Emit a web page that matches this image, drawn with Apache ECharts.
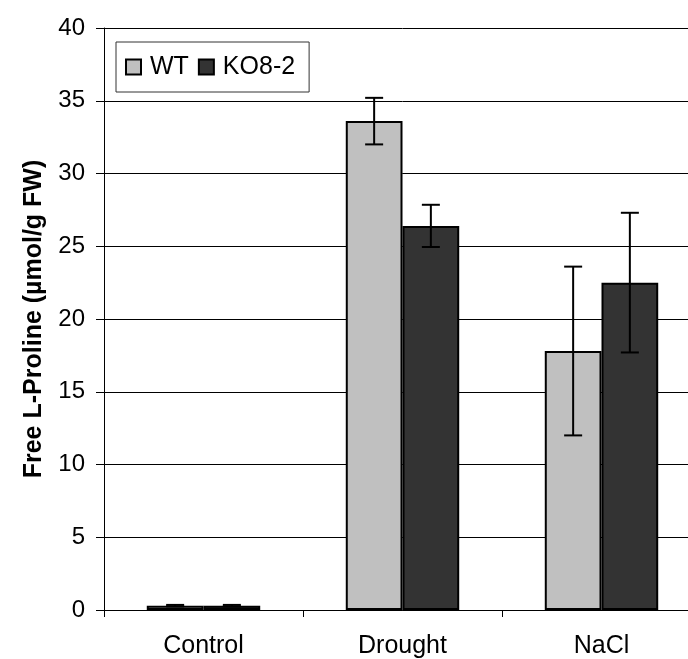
<!DOCTYPE html>
<html>
<head>
<meta charset="utf-8">
<script src="https://cdn.jsdelivr.net/npm/echarts@6/dist/echarts.min.js"></script>
<style>
  html, body { margin: 0; padding: 0; background: #fff; overflow: hidden; width: 688px; height: 659px; }
  /* the plot runs a little past the right edge of the page */
  #chart { width: 712px; height: 659px; }
</style>
</head>
<body>
<div id="chart"></div>
<script>
// Free L-proline content under control, drought and salt treatments
const categories = ['Control', 'Drought', 'NaCl'];
const wtMean = [0.3, 33.6, 17.8];
const wtErr = [0.05, 1.6, 5.8];
const koMean = [0.3, 26.4, 22.5];
const koErr = [0.05, 1.45, 4.8];
const yTicks = { min: 0, max: 40, interval: 5 };

const FONT = "'Liberation Sans', Arial, sans-serif";
const CATEGORY_GAP = 0.43;

// Error bar rows: [category index, mean, error, side (-1 left bar, +1 right bar)]
function errorRows(means, errs, side) {
  return means.map((m, i) => [i, m, errs[i], side]);
}

function renderErrorBar(params, api) {
  const idx = api.value(0);
  const mean = api.value(1);
  const err = api.value(2);
  const side = api.value(3);
  const band = api.size([1, 0])[0];
  const barW = band * (1 - CATEGORY_GAP) / 2;
  const center = api.coord([idx, mean]);
  const x = center[0] + side * barW / 2;
  const yHi = api.coord([idx, mean + err])[1];
  const yLo = api.coord([idx, mean - err])[1];
  const cap = 9;
  const style = { stroke: '#000', lineWidth: 2 };
  return {
    type: 'group',
    children: [
      { type: 'line', shape: { x1: x, y1: yHi, x2: x, y2: yLo }, style },
      { type: 'line', shape: { x1: x - cap, y1: yHi, x2: x + cap, y2: yHi }, style },
      { type: 'line', shape: { x1: x - cap, y1: yLo, x2: x + cap, y2: yLo }, style }
    ]
  };
}

const chart = echarts.init(document.getElementById('chart'), null, { renderer: 'canvas' });

chart.setOption({
  animation: false,
  backgroundColor: '#fff',
  textStyle: { fontFamily: FONT, color: '#000' },
  grid: { left: 104, top: 28, width: 597, height: 583, containLabel: false },
  legend: {
    left: 116,
    top: 42,
    orient: 'horizontal',
    data: ['WT', 'KO8-2'],
    icon: 'rect',
    itemWidth: 15,
    itemHeight: 15,
    itemGap: 9,
    padding: [12, 14, 12, 9],
    borderColor: '#333',
    borderWidth: 1,
    backgroundColor: '#fff',
    textStyle: { fontFamily: FONT, fontSize: 25, color: '#000', padding: [0, 0, 0, 4], lineHeight: 26 }
  },
  xAxis: {
    type: 'category',
    data: categories,
    boundaryGap: true,
    axisLine: { lineStyle: { color: '#000', width: 1 } },
    axisTick: { show: true, length: 7, lineStyle: { color: '#000' } },
    axisLabel: { fontFamily: FONT, fontSize: 25, color: '#000', margin: 24 },
    splitLine: { show: false }
  },
  yAxis: {
    type: 'value',
    min: yTicks.min,
    max: yTicks.max,
    interval: yTicks.interval,
    name: 'Free L-Proline (µmol/g FW)',
    nameLocation: 'middle',
    nameRotate: 90,
    nameGap: 57,
    nameTextStyle: { fontFamily: FONT, fontSize: 25, fontWeight: 'bold', color: '#000' },
    axisLine: { show: true, lineStyle: { color: '#000', width: 1 } },
    axisTick: { show: true, length: 8, lineStyle: { color: '#000' } },
    axisLabel: { fontFamily: FONT, fontSize: 24, color: '#000', margin: 19, padding: [0, 0, 3, 0] },
    splitLine: { show: true, lineStyle: { color: '#000', width: 1 } }
  },
  series: [
    {
      name: 'WT',
      type: 'bar',
      data: wtMean,
      barGap: '0%',
      barCategoryGap: (CATEGORY_GAP * 100) + '%',
      itemStyle: { color: '#c0c0c0', borderColor: '#000', borderWidth: 2 }
    },
    {
      name: 'KO8-2',
      type: 'bar',
      data: koMean,
      barGap: '0%',
      barCategoryGap: (CATEGORY_GAP * 100) + '%',
      itemStyle: { color: '#333333', borderColor: '#000', borderWidth: 2 }
    },
    {
      name: 'WT error',
      type: 'custom',
      renderItem: renderErrorBar,
      data: errorRows(wtMean, wtErr, -1),
      encode: { x: 0, y: 1 },
      z: 10
    },
    {
      name: 'KO8-2 error',
      type: 'custom',
      renderItem: renderErrorBar,
      data: errorRows(koMean, koErr, 1),
      encode: { x: 0, y: 1 },
      z: 10
    }
  ]
});
</script>
</body>
</html>
